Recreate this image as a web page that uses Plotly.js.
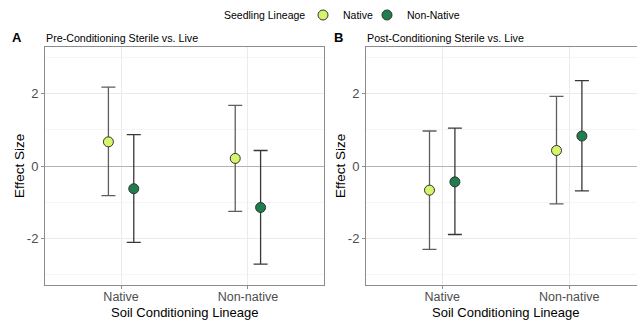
<!DOCTYPE html>
<html>
<head>
<meta charset="utf-8">
<script src="https://cdn.plot.ly/plotly-3.0.1.min.js"></script>
<style>html,body{margin:0;padding:0;background:#fff;}#chart{width:637px;height:324px;}</style>
</head>
<body>
<div id="chart"></div>
<script>
// Data
const soilCategories = ["Native", "Non-native"];
const seedlingGroups = ["Native", "Non-Native"];
// Panel A: Pre-Conditioning Sterile vs. Live
const preNativeEst = [0.67, 0.21];
const preNativeLo = [-0.82, -1.26];
const preNativeHi = [2.19, 1.68];
const preNonNativeEst = [-0.63, -1.15];
const preNonNativeLo = [-2.12, -2.72];
const preNonNativeHi = [0.87, 0.43];
// Panel B: Post-Conditioning Sterile vs. Live
const postNativeEst = [-0.67, 0.43];
const postNativeLo = [-2.31, -1.05];
const postNativeHi = [0.97, 1.93];
const postNonNativeEst = [-0.44, 0.83];
const postNonNativeLo = [-1.90, -0.69];
const postNonNativeHi = [1.05, 2.37];

const dodge = 0.1;
const fillColors = ["#d6f56b", "#1f7d4e"];
const barColors = ["#5e5e5e", "#383838"];
const legendIds = ["legend", "legend2"];

function mk(est, lo, hi, g, xa, ya, showLegend) {
  const off = g === 0 ? -dodge : dodge;
  return {
    type: "scatter", mode: "markers",
    x: soilCategories.map((c, i) => i + 1 + off),
    y: est,
    xaxis: xa, yaxis: ya,
    name: seedlingGroups[g],
    legend: legendIds[g],
    showlegend: showLegend,
    marker: {size: 10, color: fillColors[g], line: {color: "#333333", width: 1}},
    error_y: {
      type: "data", symmetric: false,
      array: hi.map((h, i) => h - est[i]),
      arrayminus: est.map((e, i) => e - lo[i]),
      color: barColors[g], thickness: 1.3, width: 7
    },
    hoverinfo: "x+y"
  };
}

const data = [
  mk(preNativeEst, preNativeLo, preNativeHi, 0, "x", "y", true),
  mk(preNonNativeEst, preNonNativeLo, preNonNativeHi, 1, "x", "y", true),
  mk(postNativeEst, postNativeLo, postNativeHi, 0, "x2", "y2", false),
  mk(postNonNativeEst, postNonNativeLo, postNonNativeHi, 1, "x2", "y2", false)
];

const W = 637, H = 324;
const font = "Liberation Sans, Arial, sans-serif";
const yDom = [1 - 285 / H, 1 - 47 / H];
const xTitle = "Soil Conditioning Lineage";
const yTitle = "Effect Size";

function xax(dom, range) {
  return {
    domain: dom, range: range, tickvals: [1, 2], ticktext: soilCategories,
    showgrid: true, gridcolor: "#ebebeb", gridwidth: 1, zeroline: false,
    showline: true, mirror: true, linecolor: "#8c8c8c", linewidth: 1,
    ticks: "outside", ticklen: 3, tickcolor: "#8c8c8c",
    ticklabelstandoff: -3,
    tickfont: {family: font, size: 12.5, color: "#4d4d4d"},
    fixedrange: true
  };
}
function yax(anchor) {
  return {
    domain: yDom, anchor: anchor, range: [-3.3, 3.3],
    tickvals: [-2, 0, 2], ticktext: ["-2", "0", "2"],
    showgrid: true, gridcolor: "#ebebeb", gridwidth: 1,
    minor: {tickvals: [-3, -1, 1, 3], showgrid: true, gridcolor: "#f5f5f5", gridwidth: 1, ticks: ""},
    zeroline: true, zerolinecolor: "#b3b3b3", zerolinewidth: 1,
    showline: true, mirror: true, linecolor: "#8c8c8c", linewidth: 1,
    ticks: "outside", ticklen: 3, tickcolor: "#8c8c8c",
    tickfont: {family: font, size: 13, color: "#4d4d4d"},
    fixedrange: true
  };
}

function leg(xpx) {
  return {
    orientation: "h", x: xpx / W, xanchor: "left", y: 1 - 15 / H, yanchor: "middle",
    font: {family: font, size: 10.5, color: "#000"},
    itemwidth: 30, bgcolor: "rgba(0,0,0,0)", borderwidth: 0
  };
}

function ann(text, xpx, ypx, size, xanchor, extra) {
  return Object.assign({text: text, x: xpx / W, y: 1 - ypx / H, xref: "paper", yref: "paper",
    xanchor: xanchor, yanchor: "middle", showarrow: false,
    font: {family: font, size: size, color: "#000"}}, extra || {});
}

const layout = {
  width: W, height: H,
  margin: {l: 0, r: 0, t: 0, b: 0},
  paper_bgcolor: "#fff", plot_bgcolor: "#fff",
  font: {family: font},
  xaxis: Object.assign(xax([45 / W, 324 / W], [0.4, 2.6]), {anchor: "y"}),
  yaxis: yax("x"),
  xaxis2: Object.assign(xax([366 / W, 1], [0.4, 0.4 + (637 - 366) / 127]), {anchor: "y2"}),
  yaxis2: yax("x2"),
  showlegend: true,
  legend: leg(316 - 13),
  legend2: leg(372 - 5),
  annotations: [
    ann("Seedling Lineage", 222, 15, 10.5, "left"),
    ann("<b>A</b>", 17, 38, 13, "center"),
    ann("Pre-Conditioning Sterile vs. Live", 44, 38, 10.7, "left"),
    ann("<b>B</b>", 338, 38, 13, "center"),
    ann("Post-Conditioning Sterile vs. Live", 365, 38, 10.7, "left"),
    ann(xTitle, 184.5, 312, 13, "center"),
    ann(xTitle, 505.5, 312, 13, "center"),
    ann(yTitle, 19, 166, 13.5, "center", {textangle: -90}),
    ann(yTitle, 340, 166, 13.5, "center", {textangle: -90})
  ]
};

Plotly.newPlot("chart", data, layout, {displayModeBar: false, staticPlot: true});
</script>
</body>
</html>
